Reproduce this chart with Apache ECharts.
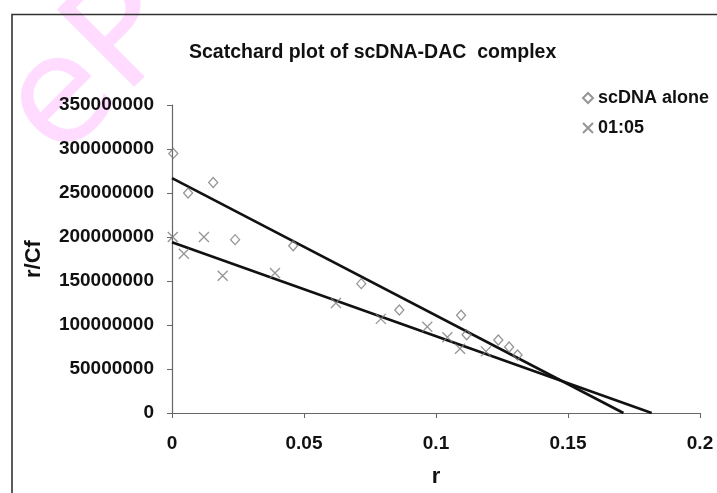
<!DOCTYPE html>
<html>
<head>
<meta charset="utf-8">
<script src="https://cdn.jsdelivr.net/npm/echarts@6/dist/echarts.min.js"></script>
<style>
  html, body { margin: 0; padding: 0; background: #fff; }
  #chart { width: 717px; height: 493px; }
</style>
</head>
<body>
<div id="chart"></div>
<script>
// Scatchard data: r (bound fraction) against r/Cf
const rAlone = [0.0005, 0.0061, 0.0156, 0.0239, 0.0459, 0.0717, 0.0861, 0.1095, 0.1116, 0.1236, 0.1277, 0.1309];
const rcfAlone = [295e6, 250e6, 262e6, 197e6, 190e6, 147e6, 117e6, 111e6, 89e6, 83e6, 75e6, 66e6];

const rComplex = [0.0003, 0.0045, 0.0121, 0.0192, 0.039, 0.0621, 0.0791, 0.0967, 0.1043, 0.1091, 0.1189];
const rcfComplex = [200e6, 181e6, 200e6, 156e6, 159e6, 125e6, 107e6, 98e6, 86e6, 73e6, 70e6];

// Linear fit lines, given as (r, r/Cf) end points
const fitAloneR = [0, 0.171];
const fitAloneV = [267e6, 0];
const fitComplexR = [0, 0.1817];
const fitComplexV = [194e6, 0];

const seriesNames = ['scDNA alone', '01:05'];
const xTicks = [0, 0.05, 0.1, 0.15, 0.2];
const yTicks = [0, 50e6, 100e6, 150e6, 200e6, 250e6, 300e6, 350e6];

const pairs = (xs, ys) => xs.map((x, i) => [x, ys[i]]);
const FONT = '"Liberation Sans", Arial, sans-serif';
const markerGray = '#7a7a7a';

const chart = echarts.init(document.getElementById('chart'));
chart.setOption({
  backgroundColor: '#ffffff',
  animation: false,
  title: {
    text: 'Scatchard plot of scDNA-DAC  complex',
    left: 184,
    top: 38,
    textStyle: { fontFamily: FONT, fontSize: 19.5, fontWeight: 'bold', color: '#111' }
  },
  legend: {
    data: seriesNames,
    orient: 'vertical',
    left: 577,
    top: 84,
    itemWidth: 10,
    itemHeight: 10,
    itemGap: 12,
    textStyle: { fontFamily: FONT, fontSize: 18, fontWeight: 'bold', color: '#111' }
  },
  graphic: [
    {
      type: 'text',
      z: -10,
      x: -22,
      y: 82,
      rotation: Math.PI / 4,
      style: { text: 'eP', font: '150px "DejaVu Sans", sans-serif', fill: '#ffdcff' }
    },
    {
      type: 'polyline',
      z: 10,
      shape: { points: [[12, 493], [12, 14.5], [717, 14.5]] },
      style: { stroke: '#333', lineWidth: 1.6, fill: null }
    }
  ],
  grid: { left: 172, right: 17, top: 105, bottom: 80 },
  xAxis: {
    type: 'value',
    min: xTicks[0],
    max: xTicks[xTicks.length - 1],
    interval: 0.05,
    name: 'r',
    nameLocation: 'middle',
    nameGap: 53,
    nameTextStyle: { fontFamily: FONT, fontSize: 22, fontWeight: 'bold', color: '#111' },
    splitLine: { show: false },
    axisLine: { lineStyle: { color: '#666', width: 1.2 } },
    axisTick: { inside: false, length: 5, lineStyle: { color: '#666' } },
    axisLabel: {
      margin: 21,
      fontFamily: FONT, fontSize: 19, fontWeight: 'bold', color: '#111',
      formatter: v => String(v)
    }
  },
  yAxis: {
    type: 'value',
    min: yTicks[0],
    max: yTicks[yTicks.length - 1],
    interval: 50e6,
    name: 'r/Cf',
    nameLocation: 'middle',
    nameGap: 127,
    nameTextStyle: { fontFamily: FONT, fontSize: 22, fontWeight: 'bold', color: '#111' },
    splitLine: { show: false },
    axisLine: { show: true, lineStyle: { color: '#666', width: 1.2 } },
    axisTick: { show: true, inside: false, length: 5, lineStyle: { color: '#666' } },
    axisLabel: {
      margin: 18,
      fontFamily: FONT, fontSize: 19, fontWeight: 'bold', color: '#111',
      formatter: v => String(v)
    }
  },
  series: [
    {
      name: seriesNames[0],
      type: 'scatter',
      symbol: 'diamond',
      symbolSize: [9, 10],
      itemStyle: { color: 'rgba(0,0,0,0)', borderColor: markerGray, borderWidth: 1.3 },
      data: pairs(rAlone, rcfAlone),
      z: 3
    },
    {
      name: seriesNames[1],
      type: 'scatter',
      symbol: 'path://M0,0L10,10M10,0L0,10',
      symbolSize: 10,
      itemStyle: { color: 'rgba(0,0,0,0)', borderColor: markerGray, borderWidth: 1.3 },
      data: pairs(rComplex, rcfComplex),
      z: 3
    },
    {
      name: 'fit alone',
      type: 'line',
      showSymbol: false,
      lineStyle: { color: '#111', width: 2.6 },
      data: pairs(fitAloneR, fitAloneV),
      z: 2
    },
    {
      name: 'fit complex',
      type: 'line',
      showSymbol: false,
      lineStyle: { color: '#111', width: 2.6 },
      data: pairs(fitComplexR, fitComplexV),
      z: 2
    }
  ]
});
</script>
</body>
</html>
